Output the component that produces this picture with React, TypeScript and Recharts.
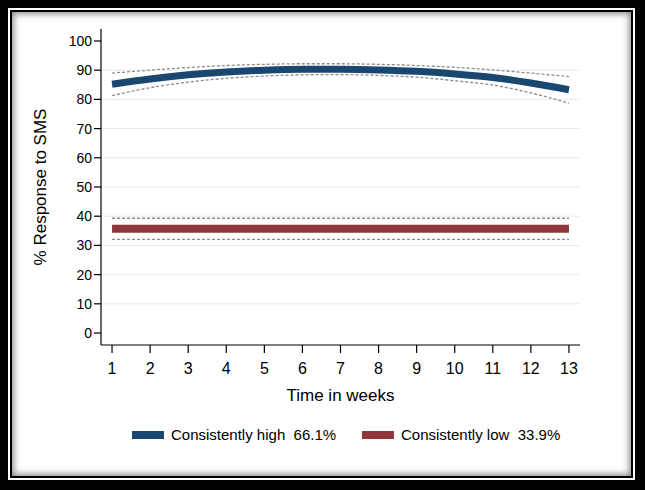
import { LineChart, Line, XAxis, YAxis, CartesianGrid } from 'recharts';

const weeks = [1, 2, 3, 4, 5, 6, 7, 8, 9, 10, 11, 12, 13];

// consistently high group: fitted line with 95% CI
const highMean = [85.2, 87.0, 88.4, 89.4, 90.0, 90.3, 90.3, 90.1, 89.6, 88.7, 87.5, 85.6, 83.3];
const highUpper = [89.0, 90.0, 90.9, 91.6, 92.0, 92.2, 92.2, 92.0, 91.6, 91.0, 90.1, 89.0, 87.8];
const highLower = [81.3, 84.0, 85.9, 87.2, 88.0, 88.4, 88.5, 88.2, 87.6, 86.4, 84.9, 82.2, 78.7];

// consistently low group
const lowMean = [35.7, 35.7, 35.7, 35.7, 35.7, 35.7, 35.7, 35.7, 35.7, 35.7, 35.7, 35.7, 35.7];
const lowUpper = [39.3, 39.3, 39.3, 39.3, 39.3, 39.3, 39.3, 39.3, 39.3, 39.3, 39.3, 39.3, 39.3];
const lowLower = [32.1, 32.1, 32.1, 32.1, 32.1, 32.1, 32.1, 32.1, 32.1, 32.1, 32.1, 32.1, 32.1];

const yTicks = [0, 10, 20, 30, 40, 50, 60, 70, 80, 90, 100];
const gridValues = [10, 20, 30, 40, 50, 60, 70, 80, 90];

const groups = [
  { name: 'Consistently high', share: '66.1%', color: '#1a476f' },
  { name: 'Consistently low', share: '33.9%', color: '#90353b' },
];

const data = weeks.map((w, i) => ({
  week: w,
  highMean: highMean[i],
  highUpper: highUpper[i],
  highLower: highLower[i],
  lowMean: lowMean[i],
  lowUpper: lowUpper[i],
  lowLower: lowLower[i],
}));

const FONT = '"Liberation Sans", Arial, Helvetica, sans-serif';
const CI_COLOR = '#8c8c8c';

export default function App() {
  return (
    <div style={{ position: 'absolute', left: 0, top: 0, width: 645, height: 490, background: '#000', fontFamily: FONT }}>
      <div style={{ position: 'absolute', left: 8, top: 8, width: 627, height: 472, border: '2px solid #fff', boxSizing: 'border-box' }}>
        <div style={{ width: '100%', height: '100%', border: '2px solid #000', boxSizing: 'border-box' }}>
          <div style={{ width: '100%', height: '100%', background: '#fff', boxShadow: 'inset 0 0 6px 2px rgba(0,0,0,0.45)' }} />
        </div>
      </div>

      <div style={{ position: 'absolute', left: 0, top: 0 }}>
        <LineChart width={645} height={490} data={data} margin={{ top: 29, right: 65, bottom: 115, left: 41 }}>
          <CartesianGrid horizontal vertical={false} horizontalValues={gridValues} stroke="#e2ecef" strokeWidth={1} />
          <XAxis
            dataKey="week"
            type="number"
            domain={[0.71, 13.29]}
            ticks={weeks}
            allowDataOverflow
            height={30}
            stroke="#000"
            strokeWidth={1.2}
            tickSize={8}
            tickMargin={10}
            tick={{ fontSize: 16, fill: '#000', fontFamily: FONT }}
            label={(props: any) => {
              const vb = props.viewBox;
              return (
                <text x={vb.x + vb.width / 2} y={401} textAnchor="middle" fontSize={17} fill="#000" fontFamily={FONT}>
                  Time in weeks
                </text>
              );
            }}
          />
          <YAxis
            type="number"
            domain={[-4.1, 104.1]}
            ticks={yTicks}
            allowDataOverflow
            width={60}
            stroke="#000"
            strokeWidth={1.2}
            tickSize={7}
            tickMargin={2}
            tick={{ fontSize: 14, fill: '#000', fontFamily: FONT }}
            label={(props: any) => {
              const vb = props.viewBox;
              const cy = vb.y + vb.height / 2;
              return (
                <text x={46} y={cy} transform={`rotate(-90, 46, ${cy})`} textAnchor="middle" fontSize={17} fill="#000" fontFamily={FONT}>
                  % Response to SMS
                </text>
              );
            }}
          />
          <Line dataKey="highUpper" type="monotone" stroke={CI_COLOR} strokeWidth={1.3} strokeDasharray="3 2" dot={false} isAnimationActive={false} />
          <Line dataKey="highLower" type="monotone" stroke={CI_COLOR} strokeWidth={1.3} strokeDasharray="3 2" dot={false} isAnimationActive={false} />
          <Line dataKey="lowUpper" type="monotone" stroke={CI_COLOR} strokeWidth={1.3} strokeDasharray="3 2" dot={false} isAnimationActive={false} />
          <Line dataKey="lowLower" type="monotone" stroke={CI_COLOR} strokeWidth={1.3} strokeDasharray="3 2" dot={false} isAnimationActive={false} />
          <Line dataKey="highMean" type="monotone" stroke={groups[0].color} strokeWidth={7} dot={false} isAnimationActive={false} />
          <Line dataKey="lowMean" type="monotone" stroke={groups[1].color} strokeWidth={8} dot={false} isAnimationActive={false} />
        </LineChart>
      </div>

      {groups.map((g, i) => (
        <div
          key={g.name}
          style={{ position: 'absolute', left: i === 0 ? 132 : 362, top: 426, display: 'flex', alignItems: 'center', fontSize: 15, color: '#000', whiteSpace: 'pre' }}
        >
          <span style={{ display: 'inline-block', width: 32, height: 8, background: g.color, marginRight: 7 }} />
          <span>{`${g.name}  ${g.share}`}</span>
        </div>
      ))}
    </div>
  );
}
